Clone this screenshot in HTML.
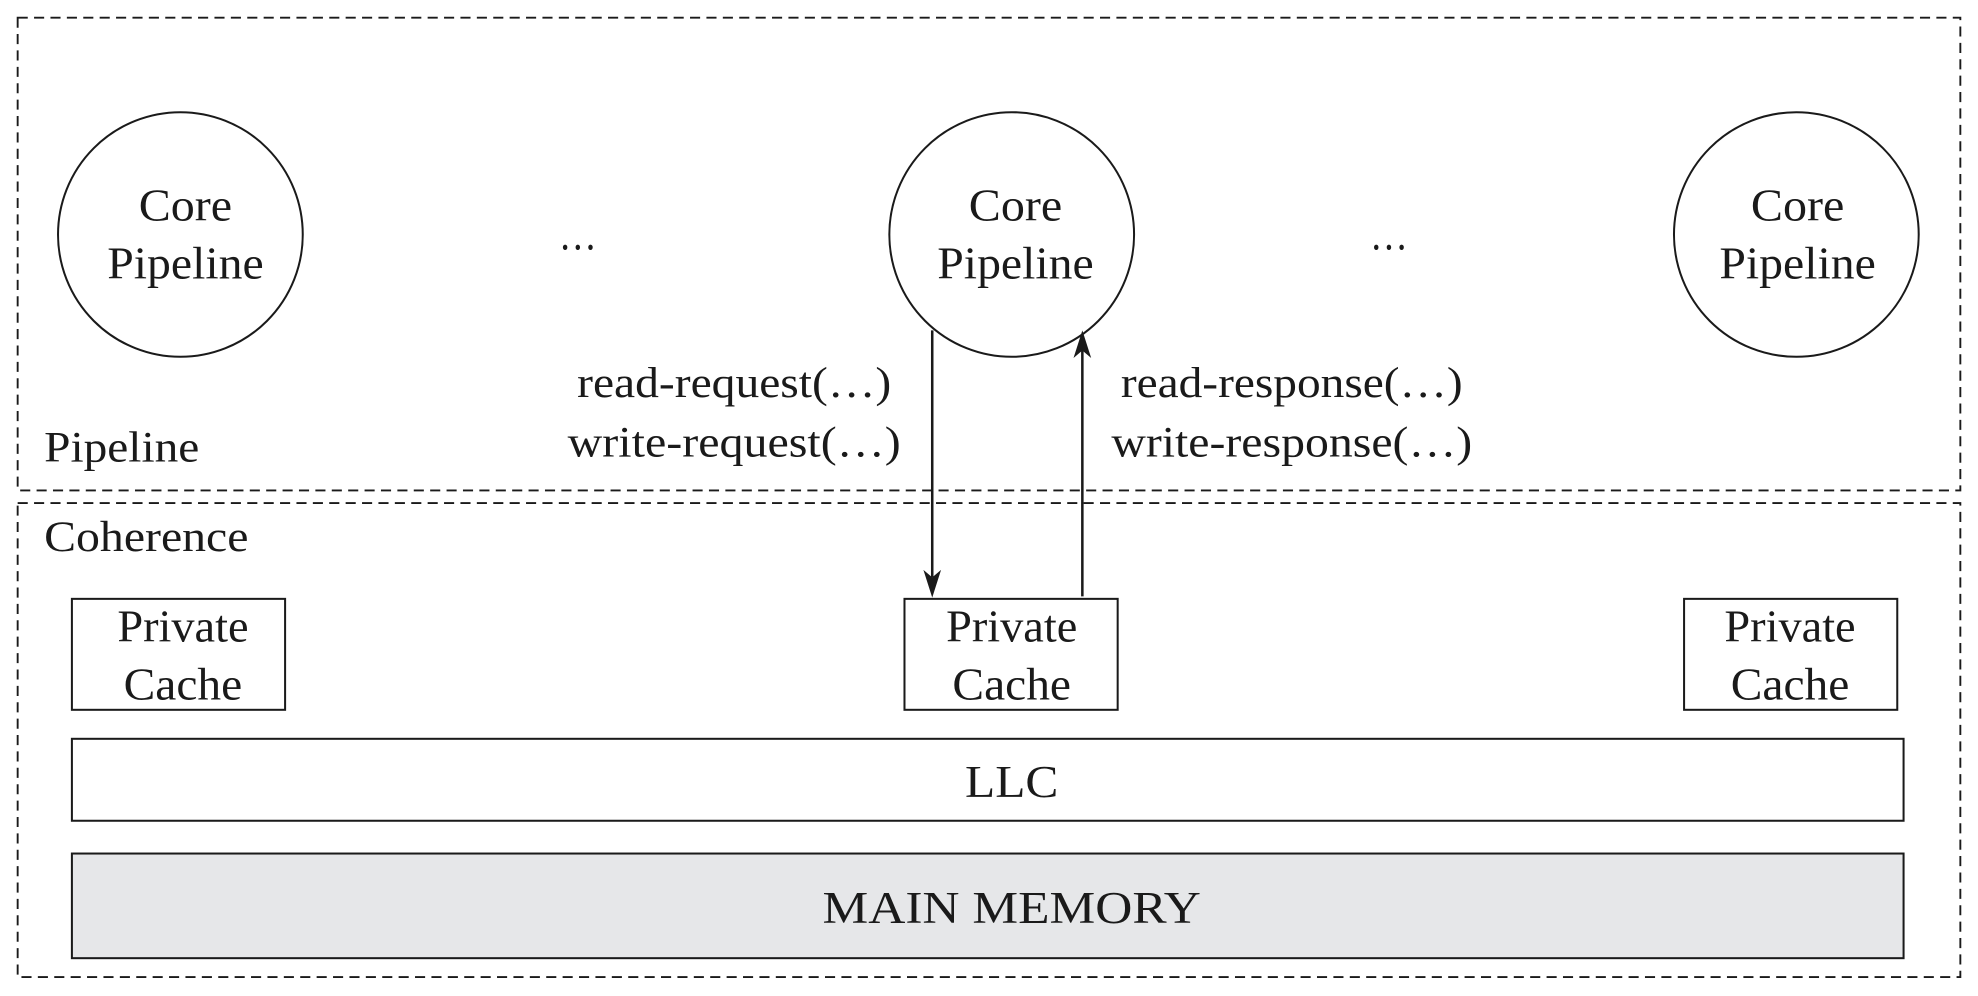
<!DOCTYPE html>
<html><head><meta charset="utf-8"><style>
html,body{margin:0;padding:0;background:#fff;}
svg{display:block;}
text{font-family:"Liberation Serif",serif;fill:#1a1a1a;}
</style></head><body>
<svg width="1978" height="996" viewBox="0 0 1568 790" preserveAspectRatio="none" xmlns="http://www.w3.org/2000/svg">
<g fill="none" stroke="#1a1a1a" stroke-width="1.5" stroke-dasharray="8,5">
<rect x="14" y="14" width="1540" height="375"/>
<rect x="14" y="399" width="1540" height="376"/>
</g>
<g fill="#fff" stroke="#1a1a1a" stroke-width="1.6">
<circle cx="143" cy="186" r="97"/>
<circle cx="802" cy="186" r="97"/>
<circle cx="1424" cy="186" r="97"/>
<rect x="57" y="475" width="169" height="88"/>
<rect x="717" y="475" width="169" height="88"/>
<rect x="1335" y="475" width="169" height="88"/>
<rect x="57" y="586" width="1452" height="65"/>
<rect x="57" y="677" width="1452" height="83" fill="#e6e7e9"/>
</g>
<g font-size="36" text-anchor="middle" lengthAdjust="spacingAndGlyphs">
<text x="147" y="175" textLength="74" lengthAdjust="spacingAndGlyphs">Core</text><text x="147" y="221" textLength="124" lengthAdjust="spacingAndGlyphs">Pipeline</text>
<text x="805" y="175" textLength="74" lengthAdjust="spacingAndGlyphs">Core</text><text x="805" y="221" textLength="124" lengthAdjust="spacingAndGlyphs">Pipeline</text>
<text x="1425" y="175" textLength="74" lengthAdjust="spacingAndGlyphs">Core</text><text x="1425" y="221" textLength="124" lengthAdjust="spacingAndGlyphs">Pipeline</text>
<text x="458" y="198" textLength="30" lengthAdjust="spacingAndGlyphs">…</text><text x="1101" y="198" textLength="30" lengthAdjust="spacingAndGlyphs">…</text>
<text x="145" y="509" textLength="104" lengthAdjust="spacingAndGlyphs">Private</text><text x="145" y="555" textLength="94" lengthAdjust="spacingAndGlyphs">Cache</text>
<text x="802" y="509" textLength="104" lengthAdjust="spacingAndGlyphs">Private</text><text x="802" y="555" textLength="94" lengthAdjust="spacingAndGlyphs">Cache</text>
<text x="1419" y="509" textLength="104" lengthAdjust="spacingAndGlyphs">Private</text><text x="1419" y="555" textLength="94" lengthAdjust="spacingAndGlyphs">Cache</text>
<text x="802" y="632" textLength="74" lengthAdjust="spacingAndGlyphs">LLC</text>
<text x="802" y="732" textLength="300" lengthAdjust="spacingAndGlyphs">MAIN MEMORY</text>
</g>
<g font-size="34" text-anchor="middle">
<text x="582" y="315" textLength="249" lengthAdjust="spacingAndGlyphs">read-request(…)</text>
<text x="582" y="362" textLength="264" lengthAdjust="spacingAndGlyphs">write-request(…)</text>
<text x="1024" y="315" textLength="271" lengthAdjust="spacingAndGlyphs">read-response(…)</text>
<text x="1024" y="362" textLength="286" lengthAdjust="spacingAndGlyphs">write-response(…)</text>
</g>
<g font-size="34">
<text x="35" y="366" textLength="123" lengthAdjust="spacingAndGlyphs">Pipeline</text>
<text x="35" y="437" textLength="162" lengthAdjust="spacingAndGlyphs">Coherence</text>
</g>
<g stroke="#1a1a1a" stroke-width="2">
<line x1="739" y1="262" x2="739" y2="458"/>
<line x1="858" y1="473" x2="858" y2="278"/>
</g>
<path d="M739,474 L732,452 L739,458 L746,452 z" fill="#1a1a1a"/>
<path d="M858,262 L851,284 L858,278 L865,284 z" fill="#1a1a1a"/>
</svg>
</body></html>
